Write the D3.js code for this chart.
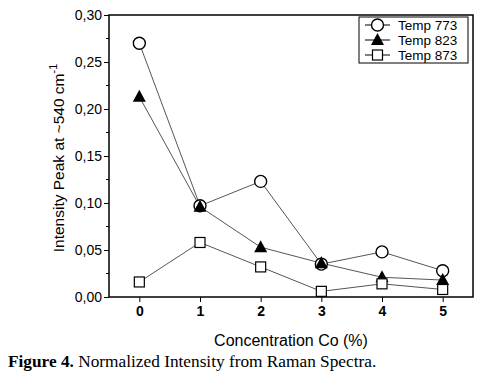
<!DOCTYPE html>
<html>
<head>
<meta charset="utf-8">
<script src="https://cdn.jsdelivr.net/npm/d3@7"></script>
<style>
  body { margin: 0; background: #fff; }
  svg { display: block; }
</style>
</head>
<body>
<svg id="chart" width="485" height="383"></svg>
<script>
// =======================
//  Data
// =======================
var concentrations = [0, 1, 2, 3, 4, 5];
var temp773 = [0.270, 0.097, 0.123, 0.035, 0.048, 0.028];
var temp823 = [0.213, 0.096, 0.053, 0.036, 0.021, 0.018];
var temp873 = [0.016, 0.058, 0.032, 0.006, 0.014, 0.008];
var seriesNames = ["Temp 773", "Temp 823", "Temp 873"];
var yTicks = [0, 0.05, 0.10, 0.15, 0.20, 0.25, 0.30];

var series = [
    {name: seriesNames[0], values: temp773, symbol: 'circle'},
    {name: seriesNames[1], values: temp823, symbol: 'triangle'},
    {name: seriesNames[2], values: temp873, symbol: 'square'}
];

// =======================
//  Layout
// =======================
var plotLeft = 109, plotRight = 473, plotTop = 15, plotBottom = 297;
var svg = d3.select("#chart");

var x = d3.scaleLinear().domain([-0.5, 5.5]).range([plotLeft, plotRight]);
var y = d3.scaleLinear().domain([0, 0.30]).range([plotBottom, plotTop]);

var commaLocale = d3.formatLocale({decimal: ",", thousands: ".", grouping: [3], currency: ["", ""]});
var yFmt = commaLocale.format(".2f");

// frame
svg.append('rect')
    .attr('x', plotLeft).attr('y', plotTop)
    .attr('width', plotRight - plotLeft).attr('height', plotBottom - plotTop)
    .attr('fill', 'none').attr('stroke', '#000').attr('stroke-width', 1.5);

// y axis (major + minor ticks)
var yAxis = svg.append('g').attr('transform', `translate(${plotLeft},0)`)
    .call(d3.axisLeft(y).tickValues(yTicks).tickFormat(yFmt).tickSize(5).tickPadding(2));
yAxis.select('.domain').remove();
yAxis.selectAll('text')
    .style('font-family', 'Arial, "Liberation Sans", sans-serif')
    .style('font-size', '14px').attr('fill', '#000');

var minorY = d3.range(0.025, 0.30, 0.05);
svg.append('g').selectAll('line').data(minorY).join('line')
    .attr('x1', plotLeft - 3).attr('x2', plotLeft)
    .attr('y1', d => y(d)).attr('y2', d => y(d))
    .attr('stroke', '#000');

// x axis
var xAxis = svg.append('g').attr('transform', `translate(0,${plotBottom})`)
    .call(d3.axisBottom(x).tickValues(concentrations).tickFormat(d3.format('d')).tickSize(5).tickPadding(4));
xAxis.select('.domain').remove();
xAxis.selectAll('text')
    .style('font-family', 'Arial, "Liberation Sans", sans-serif')
    .style('font-size', '14px').style('font-weight', 'bold').attr('fill', '#000');

// axis titles
svg.append('text')
    .attr('x', (plotLeft + plotRight) / 2).attr('y', 346)
    .attr('text-anchor', 'middle')
    .style('font-family', 'Arial, "Liberation Sans", sans-serif')
    .style('font-size', '16px')
    .text('Concentration Co (%)');

var yTitle = svg.append('text')
    .attr('transform', 'translate(64,158) rotate(-90)')
    .attr('text-anchor', 'middle')
    .style('font-family', 'Arial, "Liberation Sans", sans-serif')
    .style('font-size', '15.5px');
yTitle.append('tspan').text('Intensity Peak at ~540 cm');
yTitle.append('tspan').attr('dy', -7).style('font-size', '11px').text('-1');

// =======================
//  Series
// =======================
function drawSymbol(g, type, cx, cy) {
    if (type === 'circle') {
        g.append('circle').attr('cx', cx).attr('cy', cy).attr('r', 6)
            .attr('fill', '#fff').attr('stroke', '#000').attr('stroke-width', 1.4);
    } else if (type === 'triangle') {
        g.append('path')
            .attr('d', `M${cx},${cy - 7}L${cx + 6.5},${cy + 5}L${cx - 6.5},${cy + 5}Z`)
            .attr('fill', '#000');
    } else {
        g.append('rect').attr('x', cx - 5).attr('y', cy - 5).attr('width', 10).attr('height', 10)
            .attr('fill', '#fff').attr('stroke', '#000').attr('stroke-width', 1.2);
    }
}

var line = d3.line().x((d, i) => x(concentrations[i])).y(d => y(d));

series.forEach(function(s) {
    svg.append('path').datum(s.values)
        .attr('d', line)
        .attr('fill', 'none').attr('stroke', '#555').attr('stroke-width', 1);
});
series.forEach(function(s) {
    var g = svg.append('g');
    s.values.forEach(function(v, i) {
        drawSymbol(g, s.symbol, x(concentrations[i]), y(v));
    });
});

// =======================
//  Legend
// =======================
var legend = svg.append('g');
legend.append('rect')
    .attr('x', 359).attr('y', 17).attr('width', 109).attr('height', 46)
    .attr('fill', '#fff').attr('stroke', '#000').attr('stroke-width', 1);

series.forEach(function(s, i) {
    var ly = 25 + i * 15;
    legend.append('line').attr('x1', 365).attr('x2', 390).attr('y1', ly).attr('y2', ly)
        .attr('stroke', '#000').attr('stroke-width', 1);
    drawSymbol(legend, s.symbol, 377.5, ly);
    legend.append('text')
        .attr('x', 398).attr('y', ly + 5)
        .style('font-family', 'Arial, "Liberation Sans", sans-serif')
        .style('font-size', '13.5px')
        .text(s.name);
});

// =======================
//  Caption
// =======================
var caption = svg.append('text')
    .attr('x', 8).attr('y', 367)
    .style('font-family', '"Liberation Serif", "Times New Roman", serif')
    .style('font-size', '17.3px');
caption.append('tspan').style('font-weight', 'bold').text('Figure 4.');
caption.append('tspan').text(' Normalized Intensity from Raman Spectra.');
</script>
</body>
</html>
